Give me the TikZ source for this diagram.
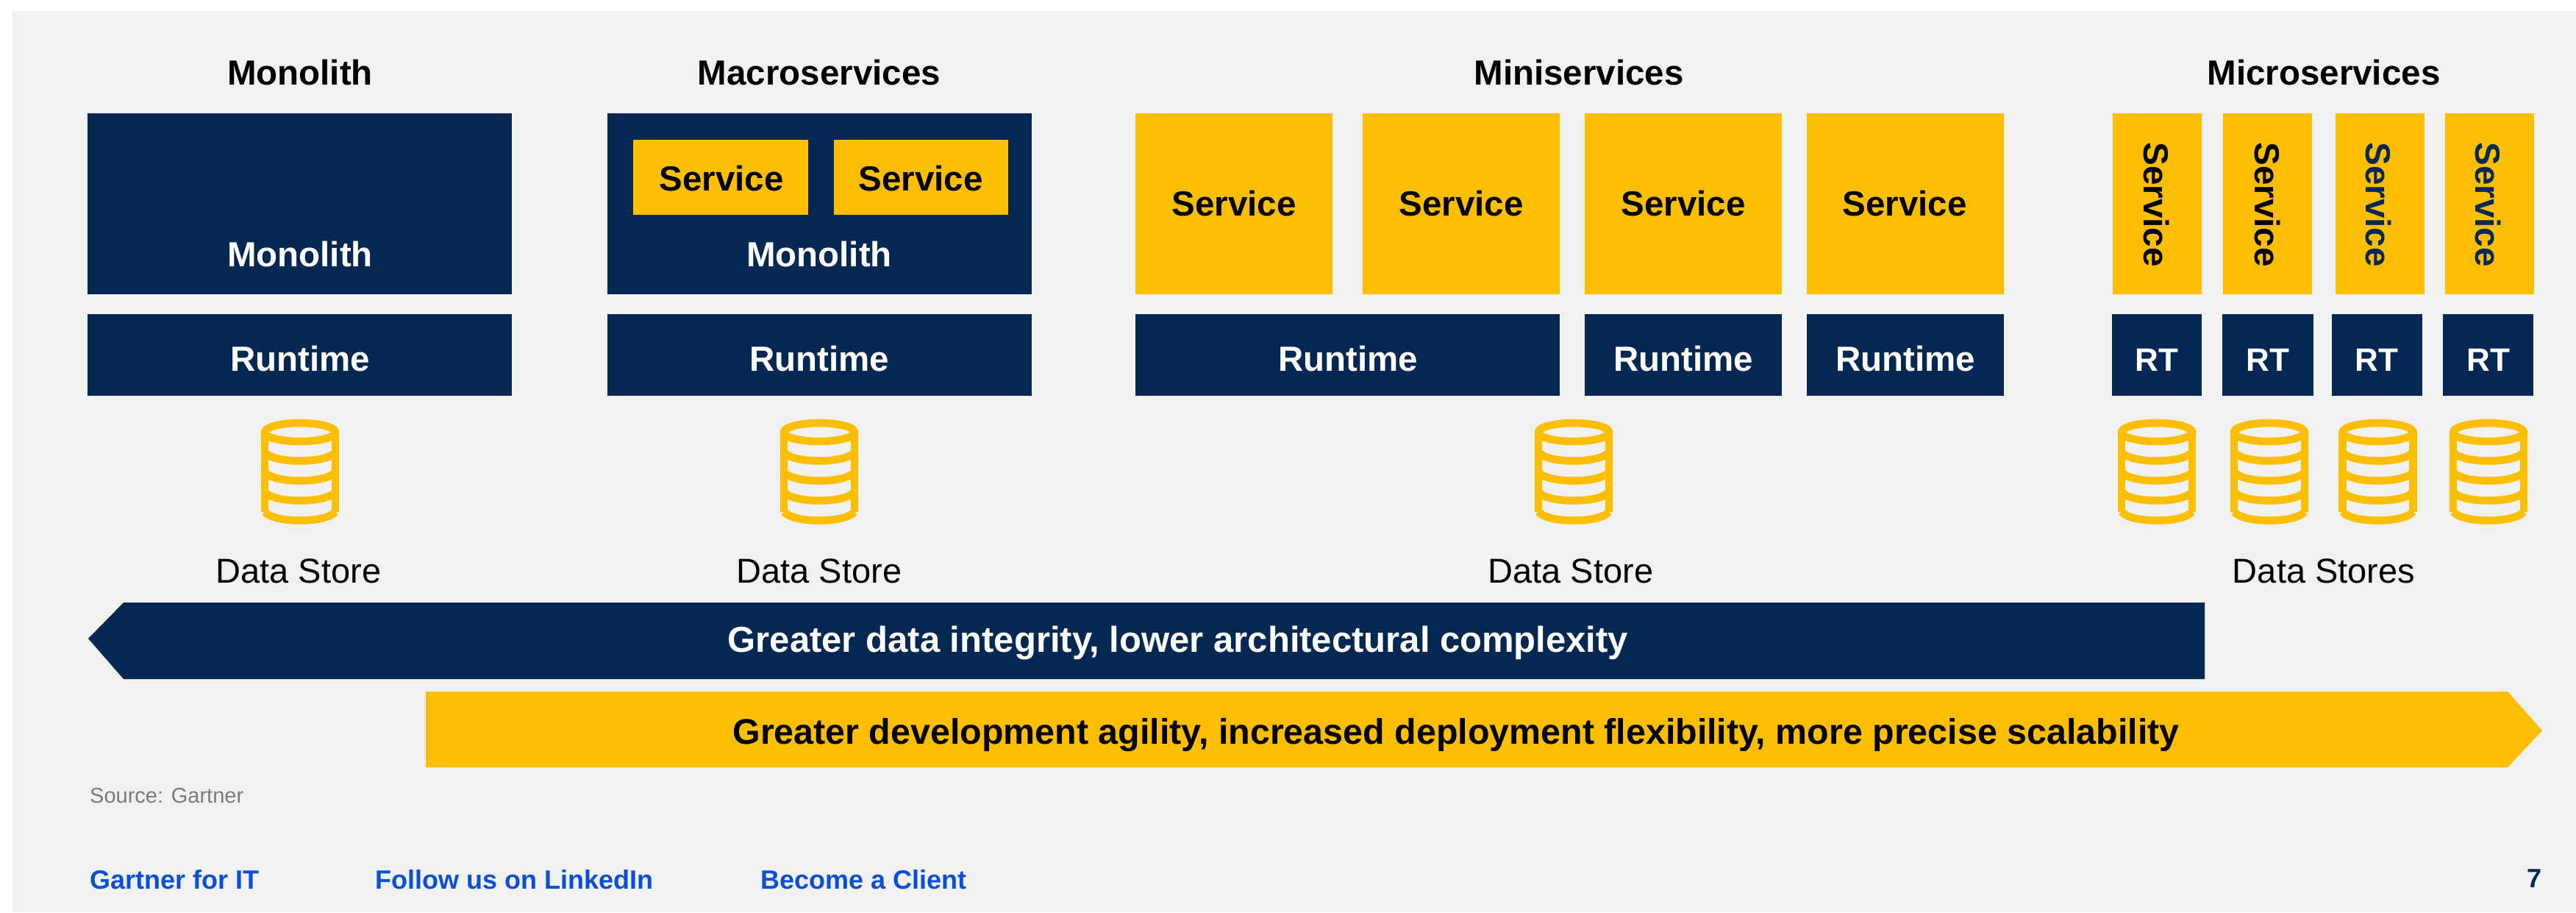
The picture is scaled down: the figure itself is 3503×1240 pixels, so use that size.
\documentclass[tikz,border=0pt]{standalone}
\usepackage{fontspec}
\setmainfont{Liberation Sans}
\definecolor{navy}{HTML}{042852}
\definecolor{gold}{HTML}{FBBE00}
\definecolor{panel}{HTML}{F1F1F1}
\definecolor{linkblue}{HTML}{0B4FD6}
\definecolor{srcgrey}{HTML}{7A7A7A}
\newcommand{\bigbold}{\fontsize{47.5}{56}\selectfont\bfseries}
\newcommand{\regtext}{\fontsize{47}{56}\selectfont}
\newcommand{\linktext}{\fontsize{36}{42}\selectfont\bfseries}
% \pbox{name}{fill}{x1}{y1}{x2}{y2}
\newcommand{\pbox}[6]{\node[boxnode,fill=#2,minimum width={#5pt-#3pt},minimum height={#6pt-#4pt}] (#1) at ({(#3+#5)/2},{(#4+#6)/2}) {};}
% \dbstack{name}{cx}
\newcommand{\dbstack}[2]{%
\coordinate (#1) at (#2,587.5);
\begin{scope}[shift={(#1)}]
\draw[dbline] (0,0) ellipse [x radius=48pt,y radius=12.5pt];
\draw[dbline] (-48,0) -- (-48,108);
\draw[dbline] (48,0) -- (48,108);
\foreach \k in {27,54,81,108}{
\draw[dbline] (-48,\k) .. controls (-36,{\k+16}) and (36,{\k+16}) .. (48,\k);
}
\end{scope}}
\tikzset{
  x=1pt,y=-1pt,
  boxnode/.style={rectangle,inner sep=0pt,outer sep=0pt,draw=none},
  dbline/.style={draw=gold,line width=10.5pt},
  head/.style={anchor=base,font=\bigbold,text=black,inner sep=0pt},
  onnavy/.style={anchor=base,font=\bigbold,text=white,inner sep=0pt},
  ongold/.style={anchor=base,font=\bigbold,text=black,inner sep=0pt},
  storelab/.style={anchor=base,font=\regtext,text=black,inner sep=0pt},
  linklab/.style={anchor=base west,font=\linktext,text=linkblue,inner sep=0pt},
  vlab/.style={anchor=center,rotate=-90,font=\bigbold,inner sep=0pt},
}
\begin{document}
\begin{tikzpicture}
\useasboundingbox (0,0) rectangle (3503,1240);
\fill[panel] (17,15) rectangle (3503,1240);
% headings
\node[head] (h1) at (408,115) {Monolith};
\node[head] (h2) at (1114,115) {Macroservices};
\node[head] (h3) at (2147,115) {Miniservices};
\node[head] (h4) at (3160,115) {Microservices};
% monolith
\pbox{m1}{navy}{119}{154}{696}{400}
\pbox{r1}{navy}{119}{427}{696}{538}
\node[onnavy] (m1t) at (408,362) {Monolith};
\node[onnavy] (r1t) at (408,504) {Runtime};
\dbstack{d1}{408}
\node[storelab] (s1) at (406,792) {Data Store};
% macro
\pbox{m2}{navy}{826}{154}{1403}{400}
\pbox{sa}{gold}{861}{190}{1099}{292}
\pbox{sb}{gold}{1134}{190}{1371}{292}
\node[ongold] (sat) at (981,259) {Service};
\node[ongold] (sbt) at (1252,259) {Service};
\node[onnavy] (m2t) at (1114,362) {Monolith};
\pbox{r2}{navy}{826}{427}{1403}{538}
\node[onnavy] (r2t) at (1114,504) {Runtime};
\dbstack{d2}{1114}
\node[storelab] (s2) at (1114,792) {Data Store};
% mini
\pbox{c1}{gold}{1544}{154}{1812}{400}
\pbox{c2}{gold}{1853}{154}{2121}{400}
\pbox{c3}{gold}{2155}{154}{2423}{400}
\pbox{c4}{gold}{2457}{154}{2725}{400}
\node[ongold] (c1t) at (1678,293) {Service};
\node[ongold] (c2t) at (1987,293) {Service};
\node[ongold] (c3t) at (2289,293) {Service};
\node[ongold] (c4t) at (2590,293) {Service};
\pbox{r3}{navy}{1544}{427}{2121}{538}
\pbox{r4}{navy}{2155}{427}{2423}{538}
\pbox{r5}{navy}{2457}{427}{2725}{538}
\node[onnavy] (r3t) at (1833,504) {Runtime};
\node[onnavy] (r4t) at (2289,504) {Runtime};
\node[onnavy] (r5t) at (2591,504) {Runtime};
\dbstack{d3}{2140}
\node[storelab] (s3) at (2136,792) {Data Store};
% micro
\pbox{v1}{gold}{2873}{154}{2994}{400}
\pbox{v2}{gold}{3023}{154}{3144}{400}
\pbox{v3}{gold}{3176}{154}{3297}{400}
\pbox{v4}{gold}{3325}{154}{3446}{400}
\node[vlab,text=black] (v1t) at (2932,278) {Service};
\node[vlab,text=black] (v2t) at (3083,278) {Service};
\node[vlab,text=navy] (v3t) at (3234,278) {Service};
\node[vlab,text=navy] (v4t) at (3383,278) {Service};
\pbox{t1}{navy}{2872}{427}{2994}{538}
\pbox{t2}{navy}{3022}{427}{3146}{538}
\pbox{t3}{navy}{3171}{427}{3294}{538}
\pbox{t4}{navy}{3322}{427}{3445}{538}
\node[onnavy,font=\fontsize{44}{50}\selectfont\bfseries] (t1t) at (2933,504) {RT};
\node[onnavy,font=\fontsize{44}{50}\selectfont\bfseries] (t2t) at (3084,504) {RT};
\node[onnavy,font=\fontsize{44}{50}\selectfont\bfseries] (t3t) at (3232,504) {RT};
\node[onnavy,font=\fontsize{44}{50}\selectfont\bfseries] (t4t) at (3384,504) {RT};
\dbstack{d4}{2933}
\dbstack{d5}{3086}
\dbstack{d6}{3233.5}
\dbstack{d7}{3384}
\node[storelab] (s4) at (3160,792) {Data Stores};
% arrows
\fill[navy] (120,868) -- (168,819) -- (2998,819) -- (2998,923) -- (168,923) -- cycle;
\node[anchor=base,font=\fontsize{49}{56}\selectfont\bfseries,text=white,inner sep=0pt] (a1) at (1602,886) {Greater data integrity, lower architectural complexity};
\fill[gold] (579,940) -- (3410,940) -- (3457,993) -- (3410,1043) -- (579,1043) -- cycle;
\node[anchor=base,font=\fontsize{48.4}{56}\selectfont\bfseries,text=black,inner sep=0pt] (a2) at (1980,1011) {Greater development agility, increased deployment flexibility, more precise scalability};
% footer
\node[anchor=base west,font=\fontsize{29}{34}\selectfont,text=srcgrey,inner sep=0pt] (src) at (122,1091) {Source: Gartner};
\node[linklab] (l1) at (122,1208) {Gartner for IT};
\node[linklab] (l2) at (510,1208) {Follow us on LinkedIn};
\node[linklab] (l3) at (1034,1208) {Become a Client};
\node[anchor=base east,font=\fontsize{36}{40}\selectfont\bfseries,text=navy,inner sep=0pt] (pg) at (3457,1206) {7};
\end{tikzpicture}
\end{document}
